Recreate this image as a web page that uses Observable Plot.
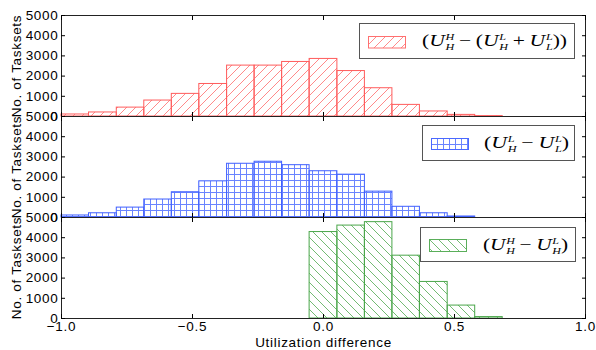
<!DOCTYPE html>
<html>
<head>
<meta charset="utf-8">
<script src="https://cdn.jsdelivr.net/npm/d3@7"></script>
<script src="https://cdn.jsdelivr.net/npm/@observablehq/plot@0.6"></script>
<style>
  html, body { margin: 0; padding: 0; background: #fff; }
  #chart { position: relative; width: 596px; height: 350px; background: #fff; overflow: hidden; }
  #chart svg.panel { position: absolute; left: 0; top: 0; overflow: visible; }
  .legend { position: absolute; box-sizing: border-box; border: 1px solid #555; background: #fff; }
  .legend svg { position: absolute; overflow: visible; }
  .math { position: absolute; font-family: "Liberation Serif", serif; font-size: 16px; line-height: 20px; white-space: nowrap; transform-origin: left center; color: #000; }
  .math i { font-style: italic; }
  .ss { display: inline-flex; flex-direction: column; font-size: 9px; line-height: 9.9px; vertical-align: 6px; margin-left: 0.5px; }
  .op { margin: 0 3.5px; }
</style>
</head>
<body>
<div id="chart">
  <svg width="0" height="0" style="position:absolute">
    <defs>
      <pattern id="hatchR" patternUnits="userSpaceOnUse" width="9" height="9">
        <path d="M-1,1 L1,-1 M0,9 L9,0 M8,10 L10,8" stroke="#ff8a8a" stroke-width="1" fill="none"/>
      </pattern>
      <pattern id="hatchB" patternUnits="userSpaceOnUse" width="6" height="6">
        <path d="M0,0.5 H6 M0.5,0 V6" stroke="#6a84ff" stroke-width="1" fill="none"/>
      </pattern>
      <pattern id="hatchG" patternUnits="userSpaceOnUse" width="9" height="9">
        <path d="M0,0 L9,9 M-1,8 L1,10 M8,-1 L10,1" stroke="#74bb74" stroke-width="1" fill="none"/>
      </pattern>
    </defs>
  </svg>
</div>
<script>
// ---- data ----
const binEdges = [-1.0, -0.895, -0.789, -0.684, -0.579, -0.474, -0.368, -0.263, -0.158, -0.053, 0.053, 0.158, 0.263, 0.368, 0.474, 0.579, 0.684];
const redCounts   = [100, 200, 440, 790, 1120, 1610, 2520, 2520, 2700, 2850, 2250, 1400, 575, 250, 80, 20];
const blueCounts  = [100, 210, 490, 890, 1250, 1790, 2660, 2760, 2590, 2290, 2120, 1280, 530, 210, 50, 0];
const greenCounts = [0, 0, 0, 0, 0, 0, 0, 0, 0, 4280, 4600, 4770, 3110, 1810, 640, 70];
const xTicks = [-1.0, -0.5, 0.0, 0.5, 1.0];
const yTicks = [0, 1000, 2000, 3000, 4000, 5000];
const yLabel = "No. of Tasksets";
const xLabel = "Utilization difference";
const seriesLegends = [
  [["(", ""], ["U", "H", "H"], ["−", "op"], ["(", ""], ["U", "L", "H"], ["+", "op"], ["U", "L", "L"], ["))", ""]],
  [["(", ""], ["U", "L", "H"], ["−", "op"], ["U", "L", "L"], [")", ""]],
  [["(", ""], ["U", "H", "H"], ["−", "op"], ["U", "L", "H"], [")", ""]]
];

const W = 596, H = 350;
const chart = document.getElementById("chart");

function binsOf(counts) {
  return binEdges.slice(0, -1).map((x1, i) => ({x1, x2: binEdges[i + 1], y: counts[i]})).filter(d => d.y > 0);
}

function panel(counts, pattern, color, top, bottom, isBottom) {
  const blank = () => "";
  const marks = [
    Plot.rectY(binsOf(counts), {x1: "x1", x2: "x2", y: "y", fill: pattern, stroke: color, strokeWidth: 1}),
    Plot.frame({stroke: "#222", strokeWidth: 1}),
    Plot.axisY({anchor: "left", ticks: yTicks, tickSize: 0, tickPadding: 3, tickFormat: d3.format("d"),
                label: yLabel, labelAnchor: "center", labelOffset: 50, labelArrow: "none"}),
    Plot.axisY({anchor: "left", ticks: yTicks, tickSize: -4, tickFormat: blank, label: null}),
    Plot.axisY({anchor: "right", ticks: yTicks, tickSize: -4, tickFormat: blank, label: null}),
    Plot.axisX({anchor: "top", ticks: xTicks, tickSize: -4, tickFormat: blank, label: null}),
    Plot.axisX({anchor: "bottom", ticks: xTicks, tickSize: -4, tickFormat: blank, label: null})
  ];
  if (isBottom) {
    marks.push(Plot.axisX({anchor: "bottom", ticks: xTicks, tickSize: 0, tickPadding: 3, tickFormat: d3.format(".1f"),
      label: xLabel, labelAnchor: "center", labelOffset: 28, labelArrow: "none"}));
  }
  const svg = Plot.plot({
    width: W, height: H,
    marginLeft: 61, marginRight: 11, marginTop: top, marginBottom: H - bottom,
    x: {domain: [-1, 1]},
    y: {domain: [0, 5000]},
    style: {background: "transparent", fontFamily: "'Liberation Sans', Arial, sans-serif", fontSize: "13.5px", letterSpacing: "0.7px", color: "#000", overflow: "visible"},
    marks
  });
  svg.classList.add("panel");
  chart.appendChild(svg);
}

panel(redCounts, "url(#hatchR)", "#ff5c5c", 15, 116, false);
panel(blueCounts, "url(#hatchB)", "#3f5fff", 116, 217, false);
panel(greenCounts, "url(#hatchG)", "#4aa64a", 217, 318, true);

// ---- legends ----
function mathHTML(parts) {
  return parts.map(p => {
    if (p.length === 3) return `<i>${p[0]}</i><span class="ss"><i>${p[1]}</i><i>${p[2]}</i></span>`;
    if (p[1] === "op") return `<span class="op">${p[0]}</span>`;
    return p[0];
  }).join("");
}
const legendBoxes = [
  {left: 359, top: 23, w: 216, h: 36, pat: "hatchR", edge: "#ff7070", px: 8, py: 11.5, ph: 12.5, tx: 62, tw: 145},
  {left: 422, top: 125, w: 153, h: 36, pat: "hatchB", edge: "#4a68ff", px: 8, py: 11.5, ph: 12, tx: 60.5, tw: 85},
  {left: 420, top: 227, w: 156, h: 35, pat: "hatchG", edge: "#5aae5a", px: 8, py: 11, ph: 13, tx: 61.5, tw: 85}
];
legendBoxes.forEach((b, i) => {
  const div = document.createElement("div");
  div.className = "legend";
  Object.assign(div.style, {left: b.left + "px", top: b.top + "px", width: b.w + "px", height: b.h + "px"});
  div.innerHTML = `<svg width="38" height="${b.ph}" style="left:${b.px}px;top:${b.py}px"><rect x="0.5" y="0.5" width="37" height="${b.ph - 1}" fill="url(#${b.pat})" stroke="${b.edge}" stroke-width="1"/></svg>` +
    `<span class="math" style="left:${b.tx}px;top:7px">${mathHTML(seriesLegends[i])}</span>`;
  chart.appendChild(div);
  const span = div.querySelector(".math");
  const wNow = span.getBoundingClientRect().width;
  span.style.transform = `scaleX(${b.tw / wNow})`;
});
</script>
</body>
</html>
